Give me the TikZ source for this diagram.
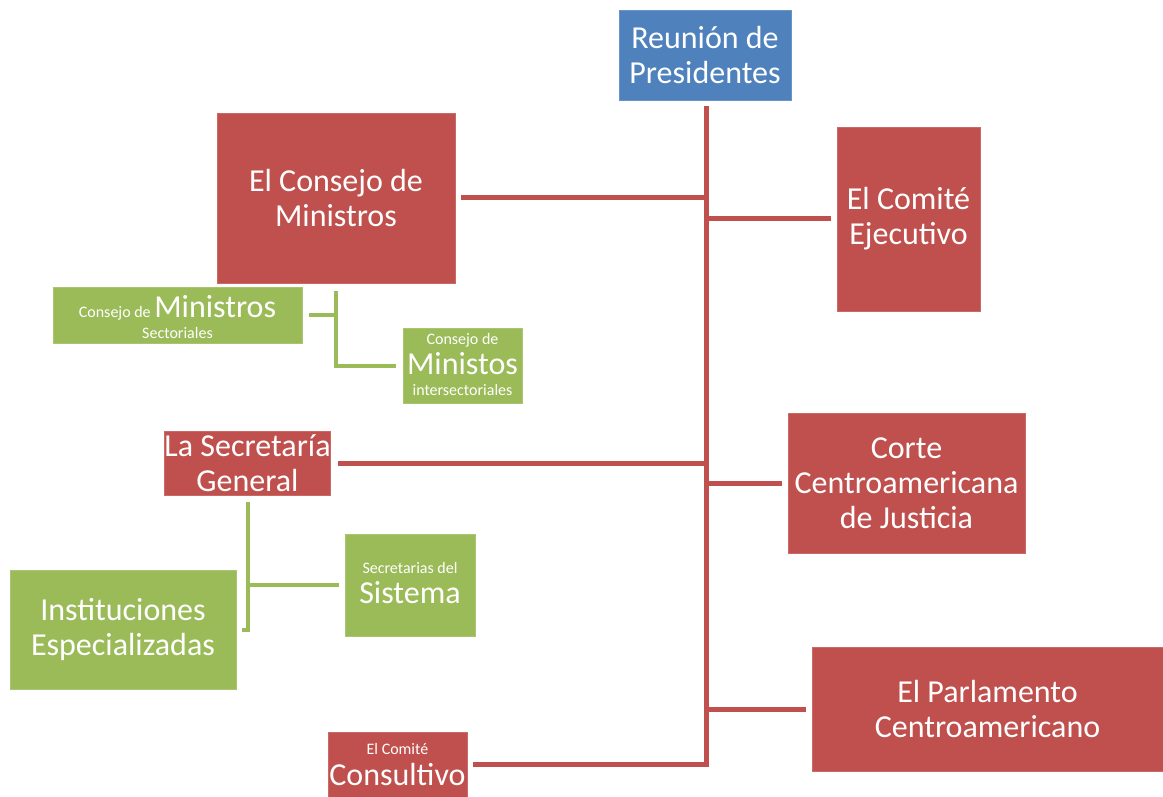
\documentclass[tikz,border=0pt]{standalone}
\usepackage{fontspec}
\setmainfont{Carlito}
\usetikzlibrary{calc}
\definecolor{cred}{HTML}{C0504D}
\definecolor{cblue}{HTML}{4F81BD}
\definecolor{cgreen}{HTML}{9BBB59}
\newcommand{\mybigt}{\fontsize{32}{35}\selectfont}
\newcommand{\myhuget}{\fontsize{32}{35}\selectfont}
\newcommand{\mysmallt}{\fontsize{16}{20}\selectfont}
\begin{document}
\begin{tikzpicture}[x=1pt,y=-1pt,
  box/.style={rectangle, inner sep=0pt, text=white, align=center, font=\mybigt},
  redbox/.style={box, fill=cred, draw=cred!85!white, line width=0.8pt},
  bluebox/.style={box, fill=cblue, draw=cblue!85!white, line width=0.8pt},
  greenbox/.style={box, fill=cgreen, draw=cgreen!85!white, line width=0.8pt},
  lbl/.style={inner sep=0pt, text=white, anchor=base},
  small/.style={lbl, font=\mysmallt},
  large/.style={lbl, font=\myhuget},
  redline/.style={draw=cred, line width=5pt, line join=miter},
  greenline/.style={draw=cgreen, line width=4pt, line join=miter}]
\useasboundingbox (0,0) rectangle (1163,797);

\node[bluebox, minimum width=172, minimum height=90] (rp) at (705,55) {Reunión de\\Presidentes};
\node[redbox, minimum width=238, minimum height=170] (cm) at (336,198) {El Consejo de\\Ministros};
\node[redbox, minimum width=143, minimum height=184] (ce) at (908.5,219) {El Comité\\Ejecutivo};
\node[redbox, minimum width=237, minimum height=140] (co) at (906.5,483) {Corte\\Centroamericana\\de Justicia};
\node[redbox, minimum width=351, minimum height=124] (pa) at (987.5,709) {El Parlamento\\Centroamericano};
\node[redbox, minimum width=165, minimum height=64] (sg) at (247.5,463) {La Secretaría\\General};
\node[greenbox, minimum width=226, minimum height=119] (ie) at (123,629.5) {Instituciones\\Especializadas};

% boxes with mixed text sizes
\node[redbox, minimum width=139, minimum height=65] (cc) at (397.5,764.5) {};
\node[small] (cc1) at ($(cc.center)+(0,-10.5)$) {El Comité};
\node[large] (cc2) at ($(cc.center)+(0,20.5)$) {Consultivo};

\node[greenbox, minimum width=249, minimum height=56] (ms) at (177.5,315) {};
\node[small] (ms1) at ($(ms.center)+(0,2)$) {Consejo de {\myhuget Ministros}};
\node[small] (ms2) at ($(ms.center)+(0,23)$) {Sectoriales};

\node[greenbox, minimum width=119, minimum height=75] (mi) at (462.5,365.5) {};
\node[small] (mi1) at ($(mi.center)+(0,-21.5)$) {Consejo de};
\node[large] (mi2) at ($(mi.center)+(0,8.5)$) {Ministos};
\node[small] (mi3) at ($(mi.center)+(0,29.5)$) {intersectoriales};

\node[greenbox, minimum width=130, minimum height=102] (ss) at (410,585) {};
\node[small] (ss1) at ($(ss.center)+(0,-12)$) {Secretarias del};
\node[large] (ss2) at ($(ss.center)+(0,18)$) {Sistema};

\coordinate (trunk) at (706,106);

% red trunk and branches
\path[redline] (trunk) -- (trunk |- cc.east) -- ([xshift=6pt]cc.east);
\path[redline] ([xshift=6pt]cm.east) -- (cm.east -| trunk);
\path[redline] (trunk |- ce.west) -- ([xshift=-6pt]ce.west);
\path[redline] ([xshift=7pt]sg.east) -- (sg.east -| trunk);
\path[redline] (trunk |- co.west) -- ([xshift=-6pt]co.west);
\path[redline] (trunk |- pa.west) -- ([xshift=-6pt]pa.west);

% green connectors
\path[greenline] ([yshift=-8pt]cm.south) -- (cm.south |- mi.west) -- ([xshift=-7pt]mi.west);
\path[greenline] ([xshift=7pt]ms.east) -- (ms.east -| cm.south);
\path[greenline] ([yshift=-7pt]sg.south) -- (sg.south |- ie.east) -- ([xshift=6pt]ie.east);
\path[greenline] (sg.south |- ss.west) -- ([xshift=-6pt]ss.west);
\end{tikzpicture}
\end{document}
